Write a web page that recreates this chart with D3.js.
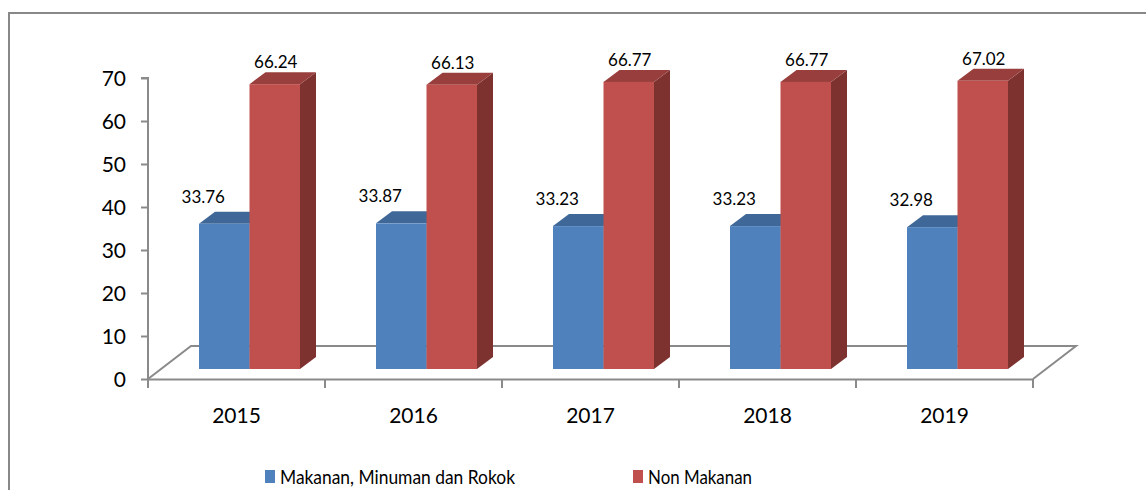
<!DOCTYPE html>
<html>
<head>
<meta charset="utf-8">
<script src="https://cdn.jsdelivr.net/npm/d3@7"></script>
<style>
  html, body { margin: 0; padding: 0; background: #fff; }
  svg { display: block; }
  text { font-family: Lato, "Open Sans", sans-serif; fill: #000; }
</style>
</head>
<body>
<svg id="chart" width="1146" height="490"></svg>
<script>
// Share of spending (%) by year
const years = ["2015", "2016", "2017", "2018", "2019"];
const makanan = [33.76, 33.87, 33.23, 33.23, 32.98];
const nonMakanan = [66.24, 66.13, 66.77, 66.77, 67.02];
const seriesNames = ["Makanan, Minuman dan Rokok", "Non Makanan"];
const yTicks = [0, 10, 20, 30, 40, 50, 60, 70];

const svg = d3.select("#chart");

// outer frame
svg.append("rect")
  .attr("x", 9).attr("y", 13).attr("width", 1150).attr("height", 500)
  .attr("fill", "none").attr("stroke", "#888").attr("stroke-width", 2);

// front plane scales
const x = d3.scaleBand().domain(years).range([148, 1033]).paddingInner(0).paddingOuter(0);
const y = d3.scaleLinear().domain([0, 70]).range([379, 78]);

// 3D offsets
const floorDepth = { dx: 43, dy: -33 };
const barPlane = { dx: 13, dy: -10 };
const barDepth = { dx: 16, dy: -12 };

const axisColor = "#8a8a8a";

// floor outline
const y0 = y(0);
const x0 = x.range()[0], x1 = x.range()[1];
svg.append("path")
  .attr("d", `M${x0},${y0} L${x0 + floorDepth.dx},${y0 + floorDepth.dy} L${x1 + floorDepth.dx},${y0 + floorDepth.dy} L${x1},${y0}`)
  .attr("fill", "none").attr("stroke", axisColor).attr("stroke-width", 2);

// value axis
const yAxis = d3.axisLeft(y).tickValues(yTicks).tickSize(7).tickPadding(15).tickFormat(d3.format("d"));
const gy = svg.append("g").attr("transform", `translate(${x0},0)`).call(yAxis);
gy.select(".domain").attr("stroke", axisColor).attr("stroke-width", 2).attr("d", `M-7,${y(70)}H0V${y0}`);
gy.selectAll(".tick line").attr("stroke", axisColor).attr("stroke-width", 2);
gy.selectAll(".tick text").attr("font-size", 21).attr("font-family", "Lato, sans-serif").attr("fill", "#000").attr("dy", "0.38em");

// category axis along the front floor edge
const xAxis = d3.axisBottom(x).tickSize(0).tickPadding(44);
const gx = svg.append("g").attr("transform", `translate(0,${y0})`).call(xAxis);
gx.select(".domain").attr("stroke", axisColor).attr("stroke-width", 2);
gx.selectAll(".tick text").attr("font-size", 21).attr("font-family", "Lato, sans-serif").attr("fill", "#000").attr("dy", "0");
// boundary ticks between categories
const bounds = years.map(d => x(d)).concat([x1]);
gx.selectAll(".bound").data(bounds).enter().append("line")
  .attr("class", "bound")
  .attr("x1", d => d).attr("x2", d => d)
  .attr("y1", 0).attr("y2", 9)
  .attr("stroke", axisColor).attr("stroke-width", 2);

// bars
const colors = [
  { front: "#4F81BD", top: "#3F6898", side: "#385D8A" },
  { front: "#C0504D", top: "#983F3D", side: "#7E3230" }
];
const inner = d3.scaleBand().domain([0, 1]).range([0, 101]);
const groupOffset = (x.bandwidth() - 101) / 2;

const gBars = svg.append("g");
years.forEach((yr, i) => {
  [makanan[i], nonMakanan[i]].forEach((v, s) => {
    const bx = x(yr) + groupOffset + inner(s) + barPlane.dx;
    const bw = inner.bandwidth();
    const by = y(v) + barPlane.dy;
    const bb = y(0) + barPlane.dy;
    const c = colors[s];
    const g = gBars.append("g");
    // side face
    g.append("path")
      .attr("d", `M${bx + bw},${by} L${bx + bw + barDepth.dx},${by + barDepth.dy} L${bx + bw + barDepth.dx},${bb + barDepth.dy} L${bx + bw},${bb} Z`)
      .attr("fill", c.side);
    // top face
    g.append("path")
      .attr("d", `M${bx},${by} L${bx + barDepth.dx},${by + barDepth.dy} L${bx + bw + barDepth.dx},${by + barDepth.dy} L${bx + bw},${by} Z`)
      .attr("fill", c.top);
    // front face
    g.append("rect")
      .attr("x", bx).attr("y", by).attr("width", bw).attr("height", bb - by)
      .attr("fill", c.front);
  });
});

// value labels
const fmt = d3.format(".2f");
years.forEach((yr, i) => {
  [makanan[i], nonMakanan[i]].forEach((v, s) => {
    const bx = x(yr) + groupOffset + inner(s) + barPlane.dx;
    const bw = inner.bandwidth();
    const backTop = y(v) + barPlane.dy + barDepth.dy;
    svg.append("text")
      .attr("x", bx + bw / 2 + (s === 0 ? -21 : 1))
      .attr("y", backTop - (s === 0 ? 9 : 4))
      .attr("text-anchor", "middle")
      .attr("font-size", 17)
      .text(fmt(v));
  });
});

// legend
const legendItems = [
  { name: seriesNames[0], color: colors[0].front, x: 265, w: 235 },
  { name: seriesNames[1], color: colors[1].front, x: 633, w: 104 }
];
const lg = svg.append("g");
legendItems.forEach(it => {
  lg.append("rect").attr("x", it.x).attr("y", 470).attr("width", 10).attr("height", 13).attr("fill", it.color);
  lg.append("text").attr("x", it.x + 15).attr("y", 484).attr("font-size", 20)
    .attr("textLength", it.w).attr("lengthAdjust", "spacingAndGlyphs")
    .text(it.name);
});
</script>
</body>
</html>
